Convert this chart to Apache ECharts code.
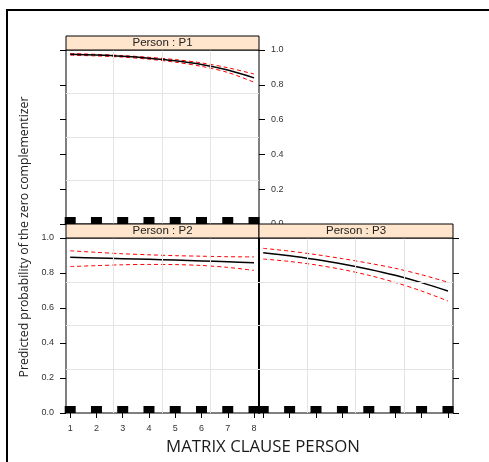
<!DOCTYPE html>
<html><head><meta charset="utf-8">
<script src="https://cdn.jsdelivr.net/npm/echarts@6/dist/echarts.min.js"></script>
<style>html,body{margin:0;padding:0;background:#fff}#c{width:489px;height:462px}</style>
</head><body><div id="c"></div>
<script>
// ---- data ----
const xValues = [1, 2, 3, 4, 5, 6, 7, 8];
const xTicks = [1, 2, 3, 4, 5, 6, 7, 8];
const yTickLabels = ['0.0', '0.2', '0.4', '0.6', '0.8', '1.0'];
const gridX = [2.65, 4.5, 6.35];
const gridY = [0.25, 0.5, 0.75];
const panelNames = ['Person : P1', 'Person : P2', 'Person : P3'];
const p1Fit   = [0.975, 0.971, 0.964, 0.953, 0.938, 0.917, 0.885, 0.840];
const p1Upper = [0.980, 0.975, 0.968, 0.958, 0.945, 0.926, 0.898, 0.862];
const p1Lower = [0.970, 0.966, 0.959, 0.947, 0.930, 0.906, 0.871, 0.815];
const p2Fit   = [0.890, 0.886, 0.882, 0.878, 0.874, 0.869, 0.864, 0.859];
const p2Upper = [0.927, 0.918, 0.910, 0.904, 0.899, 0.896, 0.893, 0.892];
const p2Lower = [0.837, 0.842, 0.847, 0.849, 0.848, 0.843, 0.832, 0.815];
const p3Fit   = [0.916, 0.899, 0.877, 0.852, 0.822, 0.787, 0.745, 0.697];
const p3Upper = [0.941, 0.925, 0.905, 0.882, 0.856, 0.827, 0.790, 0.747];
const p3Lower = [0.880, 0.866, 0.846, 0.820, 0.787, 0.746, 0.697, 0.640];
const xLabel = 'MATRIX CLAUSE PERSON';
const yLabel = 'Predicted probability of the zero complementizer';

// ---- layout ----
const panelBoxes = [
  {left: 66, top: 50, width: 193, height: 174},
  {left: 66, top: 238, width: 193, height: 175},
  {left: 259, top: 238, width: 194, height: 175}
];
const STRIP_H = 14;
const XMIN = 0.84, XMAX = 8.19;
const tickFont = {fontFamily: 'Liberation Sans, Arial, sans-serif', fontSize: 9, color: '#333'};
const pair = (ys) => xValues.map((x, i) => [x, ys[i]]);

function xAxisFor(gi, opts) {
  return Object.assign({
    type: 'value', gridIndex: gi, min: XMIN, max: XMAX,
    axisLine: {show: false}, splitLine: {show: false},
    axisTick: {show: true, inside: false, length: 5, customValues: xTicks, lineStyle: {color: '#000'}},
    axisLabel: {show: false}
  }, opts);
}
function yAxisFor(gi, pos, showLabels, opts) {
  return Object.assign({
    type: 'value', gridIndex: gi, position: pos, min: 0, max: 1, interval: 0.2,
    axisLine: {show: false}, splitLine: {show: false},
    axisTick: {show: true, inside: false, length: 6, lineStyle: {color: '#000'}},
    axisLabel: Object.assign({show: showLabels, margin: 12, formatter: v => v.toFixed(1)}, tickFont)
  }, opts || {});
}

const xAxes = [
  xAxisFor(0, {position: 'top', offset: STRIP_H, axisTick: {show: true, length: 4, customValues: xTicks, lineStyle: {color: '#000'}}}),
  xAxisFor(1, {position: 'bottom', axisLabel: Object.assign({show: true, margin: 11, customValues: xTicks}, tickFont)}),
  xAxisFor(2, {position: 'bottom'})
];
const yAxes = [
  yAxisFor(0, 'left', false),
  yAxisFor(0, 'right', true),
  yAxisFor(1, 'left', true),
  yAxisFor(2, 'right', false),
  yAxisFor(2, 'left', false, {axisTick: {show: false}, axisLine: {show: true, lineStyle: {color: '#000', width: 2}}})
];

const panelData = [
  {fit: p1Fit, up: p1Upper, lo: p1Lower, xi: 0, yi: 1},
  {fit: p2Fit, up: p2Upper, lo: p2Lower, xi: 1, yi: 2},
  {fit: p3Fit, up: p3Upper, lo: p3Lower, xi: 2, yi: 3}
];
const series = [];
panelData.forEach(p => {
  series.push({
    type: 'scatter', xAxisIndex: p.xi, yAxisIndex: p.yi, z: 1, silent: true,
    symbol: 'rect', symbolSize: [11, 7], symbolOffset: [0, -3.5],
    itemStyle: {color: '#000', opacity: 1},
    data: xValues.map(x => [x, 0]),
    markLine: {
      silent: true, symbol: ['none', 'none'], label: {show: false},
      lineStyle: {color: '#e4e4e4', type: 'solid', width: 1},
      data: gridX.map(v => ({xAxis: v})).concat(gridY.map(v => ({yAxis: v})))
    }
  });
  [p.up, p.lo].forEach(arr => series.push({
    type: 'line', xAxisIndex: p.xi, yAxisIndex: p.yi, z: 3, silent: true,
    smooth: 0.3, showSymbol: false, data: pair(arr),
    lineStyle: {color: '#ff0000', width: 1, type: [4, 3]}
  }));
  series.push({
    type: 'line', xAxisIndex: p.xi, yAxisIndex: p.yi, z: 4, silent: true,
    smooth: 0.3, showSymbol: false, data: pair(p.fit),
    lineStyle: {color: '#000', width: 1.5}
  });
});

const graphics = [
  {type: 'polyline', z: 50, silent: true, shape: {points: [[7, 470], [7, 10], [495, 10]]},
   style: {fill: 'none', stroke: '#000', lineWidth: 2}}
];
panelBoxes.forEach((b, i) => {
  graphics.push({type: 'rect', z: 100, silent: true,
    shape: {x: b.left, y: b.top - STRIP_H, width: b.width, height: STRIP_H},
    style: {fill: '#ffe5cc', stroke: '#000', lineWidth: 1}});
  graphics.push({type: 'text', z: 101, silent: true,
    x: b.left + b.width / 2, y: b.top - STRIP_H / 2,
    style: {text: panelNames[i], fill: '#222', font: '11.5px "Liberation Sans", Arial, sans-serif',
            align: 'center', verticalAlign: 'middle'}});
});
graphics.push({type: 'text', z: 101, silent: true, x: 263, y: 447,
  style: {text: xLabel, fill: '#1a1a1a', font: '16.8px "Open Sans", sans-serif', align: 'center', verticalAlign: 'middle'}});
graphics.push({type: 'text', z: 101, silent: true, x: 24, y: 237, rotation: Math.PI / 2,
  style: {text: yLabel, fill: '#222', font: '12.3px "Open Sans", sans-serif', align: 'center', verticalAlign: 'middle'}});

const chart = echarts.init(document.getElementById('c'), null, {renderer: 'canvas'});
chart.setOption({
  animation: false,
  backgroundColor: '#fff',
  grid: panelBoxes.map(b => Object.assign({show: true, borderColor: '#000', borderWidth: 1,
    backgroundColor: 'transparent', containLabel: false, outerBoundsMode: 'none'}, b)),
  xAxis: xAxes,
  yAxis: yAxes,
  series: series,
  graphic: graphics
});
</script></body></html>
